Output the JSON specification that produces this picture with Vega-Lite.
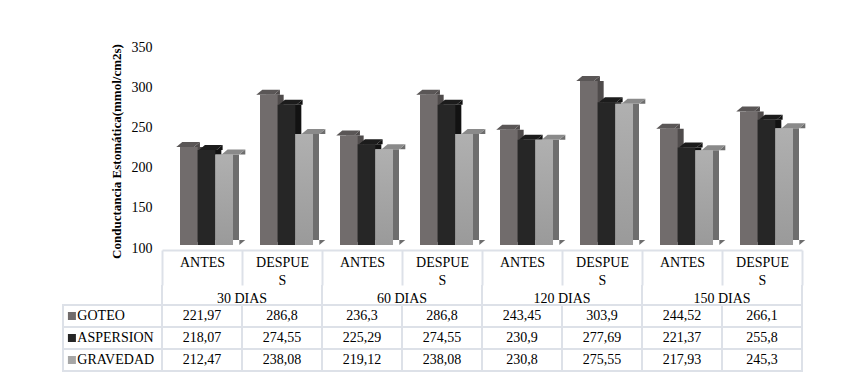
{
  "$schema": "https://vega.github.io/schema/vega-lite/v6.json",
  "background": "#ffffff",
  "padding": {"left": 62, "top": 40, "right": 10, "bottom": 6},
  "bounds": "flush",
  "spacing": 0,
  "config": {
    "view": {"stroke": null},
    "font": "Liberation Serif, DejaVu Serif, serif",
    "text": {"font": "Liberation Serif, DejaVu Serif, serif", "fontSize": 14, "color": "#000000"}
  },
  "datasets": {
    "conductancia": [
      {"dias": "30 DIAS", "fase": "ANTES", "col": "30 DIAS|ANTES", "serie": "GOTEO", "valor": 221.97},
      {"dias": "30 DIAS", "fase": "ANTES", "col": "30 DIAS|ANTES", "serie": "ASPERSION", "valor": 218.07},
      {"dias": "30 DIAS", "fase": "ANTES", "col": "30 DIAS|ANTES", "serie": "GRAVEDAD", "valor": 212.47},
      {"dias": "30 DIAS", "fase": "DESPUES", "col": "30 DIAS|DESPUES", "serie": "GOTEO", "valor": 286.8},
      {"dias": "30 DIAS", "fase": "DESPUES", "col": "30 DIAS|DESPUES", "serie": "ASPERSION", "valor": 274.55},
      {"dias": "30 DIAS", "fase": "DESPUES", "col": "30 DIAS|DESPUES", "serie": "GRAVEDAD", "valor": 238.08},
      {"dias": "60 DIAS", "fase": "ANTES", "col": "60 DIAS|ANTES", "serie": "GOTEO", "valor": 236.3},
      {"dias": "60 DIAS", "fase": "ANTES", "col": "60 DIAS|ANTES", "serie": "ASPERSION", "valor": 225.29},
      {"dias": "60 DIAS", "fase": "ANTES", "col": "60 DIAS|ANTES", "serie": "GRAVEDAD", "valor": 219.12},
      {"dias": "60 DIAS", "fase": "DESPUES", "col": "60 DIAS|DESPUES", "serie": "GOTEO", "valor": 286.8},
      {"dias": "60 DIAS", "fase": "DESPUES", "col": "60 DIAS|DESPUES", "serie": "ASPERSION", "valor": 274.55},
      {"dias": "60 DIAS", "fase": "DESPUES", "col": "60 DIAS|DESPUES", "serie": "GRAVEDAD", "valor": 238.08},
      {"dias": "120 DIAS", "fase": "ANTES", "col": "120 DIAS|ANTES", "serie": "GOTEO", "valor": 243.45},
      {"dias": "120 DIAS", "fase": "ANTES", "col": "120 DIAS|ANTES", "serie": "ASPERSION", "valor": 230.9},
      {"dias": "120 DIAS", "fase": "ANTES", "col": "120 DIAS|ANTES", "serie": "GRAVEDAD", "valor": 230.8},
      {"dias": "120 DIAS", "fase": "DESPUES", "col": "120 DIAS|DESPUES", "serie": "GOTEO", "valor": 303.9},
      {"dias": "120 DIAS", "fase": "DESPUES", "col": "120 DIAS|DESPUES", "serie": "ASPERSION", "valor": 277.69},
      {"dias": "120 DIAS", "fase": "DESPUES", "col": "120 DIAS|DESPUES", "serie": "GRAVEDAD", "valor": 275.55},
      {"dias": "150 DIAS", "fase": "ANTES", "col": "150 DIAS|ANTES", "serie": "GOTEO", "valor": 244.52},
      {"dias": "150 DIAS", "fase": "ANTES", "col": "150 DIAS|ANTES", "serie": "ASPERSION", "valor": 221.37},
      {"dias": "150 DIAS", "fase": "ANTES", "col": "150 DIAS|ANTES", "serie": "GRAVEDAD", "valor": 217.93},
      {"dias": "150 DIAS", "fase": "DESPUES", "col": "150 DIAS|DESPUES", "serie": "GOTEO", "valor": 266.1},
      {"dias": "150 DIAS", "fase": "DESPUES", "col": "150 DIAS|DESPUES", "serie": "ASPERSION", "valor": 255.8},
      {"dias": "150 DIAS", "fase": "DESPUES", "col": "150 DIAS|DESPUES", "serie": "GRAVEDAD", "valor": 245.3}
    ]
  },
  "vconcat": [
    {
      "width": 640,
      "height": 241,
      "data": {"name": "conductancia"},
      "encoding": {
        "x": {
          "field": "col", "type": "nominal",
          "scale": {"type": "band", "domain": ["30 DIAS|ANTES", "30 DIAS|DESPUES", "60 DIAS|ANTES", "60 DIAS|DESPUES", "120 DIAS|ANTES", "120 DIAS|DESPUES", "150 DIAS|ANTES", "150 DIAS|DESPUES"], "paddingInner": 0, "paddingOuter": 0},
          "axis": {
            "orient": "bottom", "offset": -35, "title": null,
            "domainColor": "#dde1e8", "domainWidth": 2,
            "tickBand": "extent", "tickSize": 35, "tickColor": "#dde1e8", "tickWidth": 2,
            "labelExpr": "indexof(datum.label, 'DESPUES') >= 0 ? ['DESPUE', 'S'] : (indexof(datum.label, 'ANTES') >= 0 ? 'ANTES' : '')",
            "labelAngle": 0, "labelAlign": "center", "labelBaseline": "top",
            "labelPadding": -30, "labelLineHeight": 18,
            "labelFont": "Liberation Serif, DejaVu Serif, serif", "labelFontSize": 14, "labelColor": "#000000",
            "labelOverlap": false, "labelFlush": false, "labelBound": false
          }
        },
        "xOffset": {
          "field": "serie", "type": "nominal",
          "scale": {"domain": ["GOTEO", "ASPERSION", "GRAVEDAD"], "paddingInner": 0, "paddingOuter": 0.764, "align": 0.667}
        },
        "y": {
          "field": "valor", "type": "quantitative",
          "scale": {"domain": [50.25, 350], "zero": false, "nice": false},
          "axis": {
            "values": [100, 150, 200, 250, 300, 350],
            "grid": false, "domain": false, "ticks": false,
            "labelPadding": 10, "labelOffset": 3,
            "labelFont": "Liberation Serif, DejaVu Serif, serif", "labelFontSize": 14, "labelColor": "#000000",
            "title": "Conductancia Estomática(mmol/cm2s)",
            "titleFont": "Liberation Serif, DejaVu Serif, serif", "titleFontSize": 13, "titleFontWeight": "bold", "titleColor": "#000000",
            "titlePadding": 8, "titleY": 107
          }
        }
      },
      "layer": [
        {
          "mark": {"type": "bar", "y2Offset": -5},
          "encoding": {
            "xOffset": {
              "field": "serie", "type": "nominal",
              "scale": {"domain": ["GOTEO", "ASPERSION", "GRAVEDAD"], "paddingInner": 0, "paddingOuter": 0.764, "align": 0.889}
            },
            "y2": {"datum": 100},
            "color": {"condition": [{"test": "datum.serie == 'GOTEO'", "value": "#4f4b4b"}, {"test": "datum.serie == 'ASPERSION'", "value": "#121212"}], "value": "#6e6e6e"}
          }
        },
        {
          "mark": {"type": "point", "shape": "M 8.83 0 L 14.83 -5 L 14.83 0 Z", "size": 4, "filled": true, "opacity": 1, "strokeWidth": 0},
          "encoding": {
            "color": {"condition": [{"test": "datum.serie == 'GOTEO'", "value": "#4f4b4b"}, {"test": "datum.serie == 'ASPERSION'", "value": "#121212"}], "value": "#6e6e6e"}
          }
        },
        {
          "mark": {"type": "point", "shape": "M 8.83 -5 L 14.83 -5 L 8.83 0 Z", "size": 4, "filled": true, "opacity": 1, "strokeWidth": 0},
          "encoding": {
            "y": {"datum": 100},
            "color": {"condition": [{"test": "datum.serie == 'GOTEO'", "value": "#4f4b4b"}, {"test": "datum.serie == 'ASPERSION'", "value": "#121212"}], "value": "#6e6e6e"}
          }
        },
        {
          "mark": {"type": "point", "shape": "M -8.83 0 L 8.83 0 L 14.83 -5 L -2.83 -5 Z", "size": 4, "filled": true, "opacity": 1, "strokeWidth": 0},
          "encoding": {
            "color": {"condition": [{"test": "datum.serie == 'GOTEO'", "value": "#5a5656"}, {"test": "datum.serie == 'ASPERSION'", "value": "#1c1c1c"}], "value": "#8a8a8a"}
          }
        },
        {
          "mark": {"type": "bar"},
          "encoding": {
            "y2": {"datum": 100},
            "color": {"condition": [{"test": "datum.serie == 'GOTEO'", "value": "#716c6c"}, {"test": "datum.serie == 'ASPERSION'", "value": "#262626"}], "value": "#a6a6a6"}
          }
        },
        {
          "transform": [{"filter": "datum.serie == 'GRAVEDAD'"}],
          "mark": {
            "type": "bar",
            "color": {"gradient": "linear", "x1": 0, "y1": 0, "x2": 0, "y2": 1, "stops": [{"offset": 0, "color": "#b0b0b0"}, {"offset": 1, "color": "#9a9a9a"}]}
          },
          "encoding": {"y2": {"datum": 100}}
        }
      ],
      "resolve": {"scale": {"xOffset": "independent"}}
    },
    {
      "width": 640,
      "height": 20,
      "data": {"name": "conductancia"},
      "transform": [{"filter": "datum.serie == 'GOTEO' && datum.fase == 'ANTES'"}],
      "encoding": {
        "x": {
          "field": "dias", "type": "nominal",
          "scale": {"type": "band", "domain": ["30 DIAS", "60 DIAS", "120 DIAS", "150 DIAS"], "paddingInner": 0, "paddingOuter": 0},
          "axis": null
        }
      },
      "layer": [
        {"mark": {"type": "rule", "color": "#dde1e8", "strokeWidth": 2}, "encoding": {"x": {"field": "dias", "type": "nominal", "bandPosition": 0}}},
        {"mark": {"type": "rule", "color": "#dde1e8", "strokeWidth": 2}, "encoding": {"x": {"field": "dias", "type": "nominal", "bandPosition": 1}}},
        {"mark": {"type": "text", "dy": 4}, "encoding": {"text": {"field": "dias"}}}
      ]
    },
    {
      "width": 640,
      "height": 66,
      "data": {"name": "conductancia"},
      "layer": [
        {
          "encoding": {
            "x": {
              "field": "col", "type": "nominal",
              "scale": {"type": "band", "domain": ["30 DIAS|ANTES", "30 DIAS|DESPUES", "60 DIAS|ANTES", "60 DIAS|DESPUES", "120 DIAS|ANTES", "120 DIAS|DESPUES", "150 DIAS|ANTES", "150 DIAS|DESPUES"], "paddingInner": 0, "paddingOuter": 0},
              "axis": null
            },
            "y": {"field": "serie", "type": "nominal", "scale": {"domain": ["GOTEO", "ASPERSION", "GRAVEDAD"], "paddingInner": 0, "paddingOuter": 0}, "axis": null}
          },
          "layer": [
            {"mark": {"type": "rect", "fill": "#ffffff", "stroke": "#dde1e8", "strokeWidth": 2}},
            {"mark": {"type": "text", "text": {"expr": "replace(format(datum.valor, '.2~f'), '.', ',')"}}}
          ]
        },
        {
          "transform": [{"filter": "datum.col == '30 DIAS|ANTES'"}],
          "encoding": {
            "x": {"field": "fase", "type": "nominal", "scale": {"type": "band", "domain": ["ANTES"], "range": [-99, 0], "paddingInner": 0, "paddingOuter": 0}, "axis": null},
            "y": {"field": "serie", "type": "nominal", "scale": {"domain": ["GOTEO", "ASPERSION", "GRAVEDAD"], "paddingInner": 0, "paddingOuter": 0}, "axis": null}
          },
          "layer": [
            {"mark": {"type": "rect", "fill": "#ffffff", "stroke": "#dde1e8", "strokeWidth": 2}},
            {
              "mark": {"type": "point", "shape": "square", "size": 64, "filled": true, "opacity": 1, "strokeWidth": 0},
              "encoding": {
                "x": {"field": "fase", "type": "nominal", "bandPosition": 0.09},
                "color": {"condition": [{"test": "datum.serie == 'GOTEO'", "value": "#716c6c"}, {"test": "datum.serie == 'ASPERSION'", "value": "#262626"}], "value": "#a6a6a6"}
              }
            },
            {
              "mark": {"type": "text", "align": "left"},
              "encoding": {
                "x": {"field": "fase", "type": "nominal", "bandPosition": 0.145},
                "text": {"field": "serie"}
              }
            }
          ]
        }
      ],
      "resolve": {"scale": {"x": "independent"}}
    }
  ]
}
